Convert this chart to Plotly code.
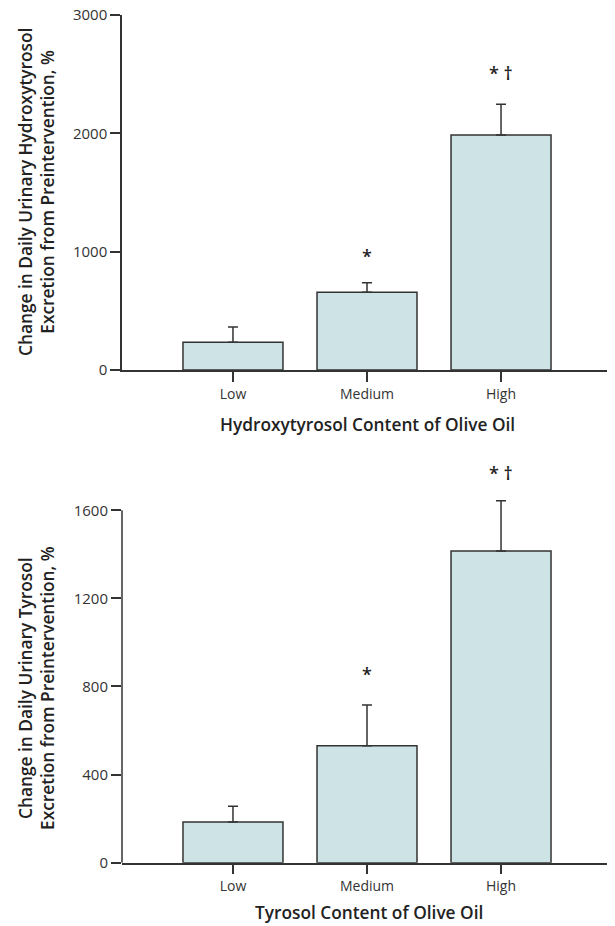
import plotly.graph_objects as go

categories = ["Low", "Medium", "High"]
hydroxy_values = [234, 657, 1986]
hydroxy_err = [129, 81, 260]
hydroxy_marks = ["", "*", "* †"]
hydroxy_mark_y = [None, 964, 2513]
hydroxy_ticks = [0, 1000, 2000, 3000]

tyrosol_values = [185, 531, 1415]
tyrosol_err = [71, 185, 228]
tyrosol_marks = ["", "*", "* †"]
tyrosol_mark_y = [None, 855, 1770]
tyrosol_ticks = [0, 400, 800, 1200, 1600]

OFF = 8  # page body margin
W, H = 607, 918
FONT = "Open Sans"
DARK = "#333333"
FILL = "#cde3e6"

def px_x(p):
    return (p - OFF) / W

def px_y(p):
    return (H - (p - OFF)) / H

fig = go.Figure()

for vals, errs, xa, ya in [(hydroxy_values, hydroxy_err, "x", "y"),
                           (tyrosol_values, tyrosol_err, "x2", "y2")]:
    fig.add_trace(go.Bar(
        x=categories, y=vals, xaxis=xa, yaxis=ya, width=0.746,
        marker=dict(color=FILL, line=dict(color=DARK, width=1.5)),
        error_y=dict(type="data", symmetric=False, array=errs,
                     arrayminus=[0, 0, 0], color=DARK, thickness=1.5, width=5),
        showlegend=False, hoverinfo="skip",
    ))

xdom = [px_x(122), px_x(612)]
xcommon = dict(domain=xdom, range=[-0.828, 2.828], showline=True, linecolor=DARK,
               linewidth=1.5, ticks="outside", ticklen=10, tickcolor=DARK, tickwidth=1.5,
               showgrid=False, zeroline=False, fixedrange=True, automargin=False,
               ticklabeloverflow="allow",
               tickfont=dict(family=FONT, size=14, color=DARK))
ycommon = dict(showgrid=False, zeroline=False, ticks="outside", ticklen=10,
               tickcolor=DARK, tickwidth=1.5, linecolor=DARK, linewidth=1.5,
               automargin=False, fixedrange=True, ticklabeloverflow="allow",
               tickfont=dict(family=FONT, size=15, color=DARK))

fig.update_layout(
    width=W, height=H, margin=dict(l=0, r=0, t=0, b=0, autoexpand=False),
    plot_bgcolor="white", paper_bgcolor="white",
    xaxis=dict(**xcommon, anchor="y"),
    yaxis=dict(**ycommon, domain=[px_y(370), px_y(15)], range=[0, 3000],
               tickvals=hydroxy_ticks, showline=True, anchor="x"),
    xaxis2=dict(**xcommon, anchor="y2"),
    yaxis2=dict(**ycommon, domain=[px_y(862.7), px_y(466.2)], range=[0, 1800],
                tickvals=tyrosol_ticks, showline=False, anchor="x2"),
)

# y-axis line for the bottom panel (stops at top tick)
fig.add_shape(type="line", xref="paper", yref="y2", x0=px_x(122), x1=px_x(122),
              y0=0, y1=1600, line=dict(color=DARK, width=1.5))

TITLE_FONT = dict(family=FONT, size=17.3, color="#222", weight=600)

annotations = []
for marks, ys, xa, ya in [(hydroxy_marks, hydroxy_mark_y, "x", "y"),
                          (tyrosol_marks, tyrosol_mark_y, "x2", "y2")]:
    for c, m, yv in zip(categories, marks, ys):
        if m:
            annotations.append(dict(x=c, y=yv, xref=xa, yref=ya, text=m, showarrow=False,
                                    xanchor="center", yanchor="middle",
                                    font=dict(family=FONT, size=18, color="#222", weight=600)))

common = dict(xref="paper", yref="paper", showarrow=False, xanchor="center", font=TITLE_FONT)
annotations += [
    dict(x=px_x(367), y=px_y(424), yanchor="middle",
         text="Hydroxytyrosol Content of Olive Oil", **common),
    dict(x=px_x(369), y=0, yanchor="bottom",
         text="Tyrosol Content of Olive Oil", **common),
    dict(x=px_x(36), y=px_y(192), yanchor="middle", textangle=-90,
         text="Change in Daily Urinary Hydroxytyrosol<br>Excretion from Preintervention, %",
         **common),
    dict(x=px_x(36), y=px_y(688), yanchor="middle", textangle=-90,
         text="Change in Daily Urinary Tyrosol<br>Excretion from Preintervention, %",
         **common),
]
fig.update_layout(annotations=annotations)

fig.write_html("out.html")
